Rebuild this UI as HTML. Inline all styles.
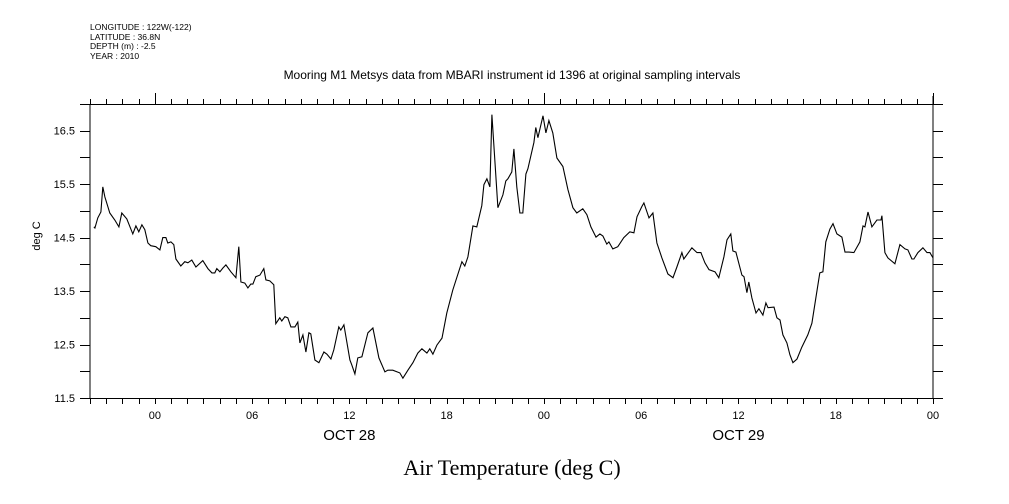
<!DOCTYPE html>
<html><head><meta charset="utf-8"><style>
body{margin:0;background:#fff}
svg{display:block;font-family:"Liberation Sans",sans-serif}
</style></head><body>
<svg id="chart" width="1009" height="504" viewBox="0 0 1009 504">
<g font-size="8.5" fill="#000">
<text x="90" y="30">LONGITUDE : 122W(-122)</text>
<text x="90" y="40">LATITUDE : 36.8N</text>
<text x="90" y="49">DEPTH (m) : -2.5</text>
<text x="90" y="59">YEAR : 2010</text>
</g>
<text x="512" y="79" font-size="12" text-anchor="middle">Mooring M1 Metsys data from MBARI instrument id 1396 at original sampling intervals</text>
<text x="0" y="0" font-size="11" text-anchor="middle" transform="translate(40,236) rotate(-90)">deg C</text>
<text x="512" y="475" font-size="22" text-anchor="middle" font-family="Liberation Serif, serif">Air Temperature (deg C)</text>
<g id="axes"></g>
<path id="line" fill="none" stroke="#000" stroke-width="1.1"/>
</svg>
<script>
const hours=[-3.76,-3.70,-3.52,-3.33,-3.21,-3.08,-2.78,-2.47,-2.22,-2.04,-1.73,-1.36,-1.17,-0.99,-0.80,-0.62,-0.43,-0.25,0.06,0.31,0.49,0.68,0.80,0.99,1.17,1.30,1.60,1.85,2.04,2.28,2.53,2.96,3.27,3.52,3.70,3.82,4.01,4.19,4.38,4.69,5.00,5.18,5.31,5.55,5.74,5.92,6.05,6.23,6.48,6.72,6.85,7.09,7.34,7.46,7.71,7.83,8.02,8.20,8.39,8.64,8.82,8.95,9.13,9.32,9.50,9.62,9.87,10.12,10.43,10.61,10.86,11.04,11.35,11.47,11.66,12.03,12.15,12.34,12.52,12.77,13.14,13.45,13.82,14.19,14.37,14.68,15.11,15.30,15.61,15.92,16.22,16.47,16.78,16.96,17.15,17.40,17.71,18.01,18.38,18.94,19.12,19.31,19.62,19.86,20.17,20.30,20.48,20.67,20.79,20.97,21.16,21.47,21.65,21.78,22.02,22.15,22.33,22.52,22.70,22.89,23.01,23.38,23.50,23.63,23.94,24.12,24.31,24.55,24.80,25.17,25.48,25.79,26.03,26.40,26.65,26.90,27.21,27.45,27.64,27.88,28.01,28.25,28.56,28.93,29.30,29.55,29.74,30.04,30.17,30.48,30.72,30.97,31.28,31.65,31.96,32.20,32.51,32.63,33.13,33.44,33.68,33.93,34.18,34.55,34.79,35.10,35.29,35.53,35.66,35.84,36.21,36.34,36.52,36.64,36.83,37.08,37.26,37.51,37.69,37.82,38.19,38.37,38.56,38.74,38.99,39.17,39.36,39.61,39.91,40.28,40.53,40.78,41.02,41.21,41.39,41.64,41.83,42.07,42.38,42.57,42.81,43.12,43.49,43.68,43.80,43.99,44.23,44.54,44.79,44.85,45.03,45.22,45.65,45.96,46.27,46.45,46.70,46.82,47.07,47.38,47.63,47.81,48.00];
const temps=[14.70,14.68,14.87,14.98,15.45,15.26,14.96,14.83,14.70,14.96,14.85,14.57,14.72,14.61,14.74,14.65,14.40,14.35,14.33,14.27,14.50,14.50,14.40,14.42,14.37,14.10,13.97,14.05,14.03,14.08,13.95,14.07,13.92,13.84,13.84,13.92,13.86,13.93,13.99,13.86,13.75,14.33,13.67,13.65,13.56,13.63,13.63,13.77,13.80,13.92,13.71,13.69,13.62,12.89,13.00,12.94,13.02,13.00,12.83,12.83,12.92,12.53,12.68,12.36,12.72,12.70,12.21,12.16,12.36,12.32,12.23,12.40,12.83,12.77,12.87,12.21,12.12,11.95,12.25,12.27,12.72,12.81,12.25,11.99,12.02,12.02,11.97,11.87,12.02,12.16,12.34,12.42,12.34,12.42,12.32,12.49,12.62,13.09,13.52,14.05,13.97,14.14,14.72,14.70,15.10,15.49,15.60,15.45,16.80,15.96,15.06,15.30,15.56,15.60,15.73,16.16,15.45,14.96,14.96,15.69,15.79,16.28,16.56,16.37,16.78,16.46,16.69,16.46,15.99,15.83,15.40,15.06,14.96,15.04,14.93,14.70,14.51,14.57,14.53,14.38,14.42,14.29,14.33,14.50,14.61,14.59,14.89,15.08,15.15,14.87,14.96,14.40,14.12,13.82,13.75,13.95,14.22,14.10,14.31,14.22,14.22,14.03,13.90,13.86,13.75,14.14,14.46,14.57,14.25,14.23,13.80,13.77,13.47,13.67,13.37,13.09,13.17,13.05,13.28,13.19,13.20,13.00,12.96,12.68,12.53,12.31,12.16,12.23,12.45,12.68,12.90,13.39,13.84,13.86,14.42,14.66,14.76,14.57,14.51,14.23,14.23,14.22,14.42,14.72,14.70,14.98,14.70,14.83,14.83,14.91,14.22,14.12,14.01,14.37,14.29,14.27,14.10,14.10,14.22,14.31,14.22,14.22,14.12];
const yTickLabels=["11.5","12.5","13.5","14.5","15.5","16.5"];
const xTickLabels=["00","06","12","18","00","06","12","18","00"];
const dayLabels=["OCT 28","OCT 29"];
const X0=90,X1=933,Y0=398,Y1=104,HMIN=-4,HMAX=48,VMIN=11.5,VMAX=17.0;
function sx(h){return X0+(h-HMIN)/(HMAX-HMIN)*(X1-X0);}
function sy(v){return Y0-(v-VMIN)/(VMAX-VMIN)*(Y0-Y1);}
const NS="http://www.w3.org/2000/svg";
const ax=document.getElementById('axes');
function ln(x1,y1,x2,y2,name){const l=document.createElementNS(NS,'line');l.setAttribute('x1',x1);l.setAttribute('y1',y1);l.setAttribute('x2',x2);l.setAttribute('y2',y2);l.setAttribute('stroke','#000');l.setAttribute('stroke-width','1');


ax.appendChild(l);}
function tx(x,y,s,size,anchor,name){const t=document.createElementNS(NS,'text');t.setAttribute('x',x);t.setAttribute('y',y);t.setAttribute('font-size',size);t.setAttribute('text-anchor',anchor);t.textContent=s;


ax.appendChild(t);}
ln(X0,Y1,X0,Y0,'left-axis');ln(X1,Y1-8,X1,Y0,'right-axis');
ln(80,Y0+0.5,943,Y0+0.5,'bottom-axis');ln(80,Y1+0.5,943,Y1+0.5,'top-axis');
for(let v=VMIN;v<=VMAX+0.001;v+=0.5){const y=Math.round(sy(v))+0.5;ln(80,y,X0,y,'y-tick');ln(X1,y,943,y,'y-tick-right');}
yTickLabels.forEach(s=>{tx(75,sy(parseFloat(s))+4,s,11,'end','y-tick-label');});
for(let h=HMIN;h<=HMAX;h++){const x=Math.round(sx(h))+0.5;ln(x,Y0,x,Y0+6,'x-tick');ln(x,Y1,x,Y1-(h%24===0?11:5),'x-tick-top');}
xTickLabels.forEach((s,i)=>{tx(sx(i*6),Y0+21,s,11,'middle','x-tick-label');});
dayLabels.forEach((s,i)=>{tx(sx(12+i*24),Y0+42,s,15,'middle','day-label');});
document.getElementById('line').setAttribute('d',hours.map((h,i)=>(i?'L':'M')+sx(h).toFixed(1)+','+sy(temps[i]).toFixed(1)).join(''));
</script>
</body></html>
